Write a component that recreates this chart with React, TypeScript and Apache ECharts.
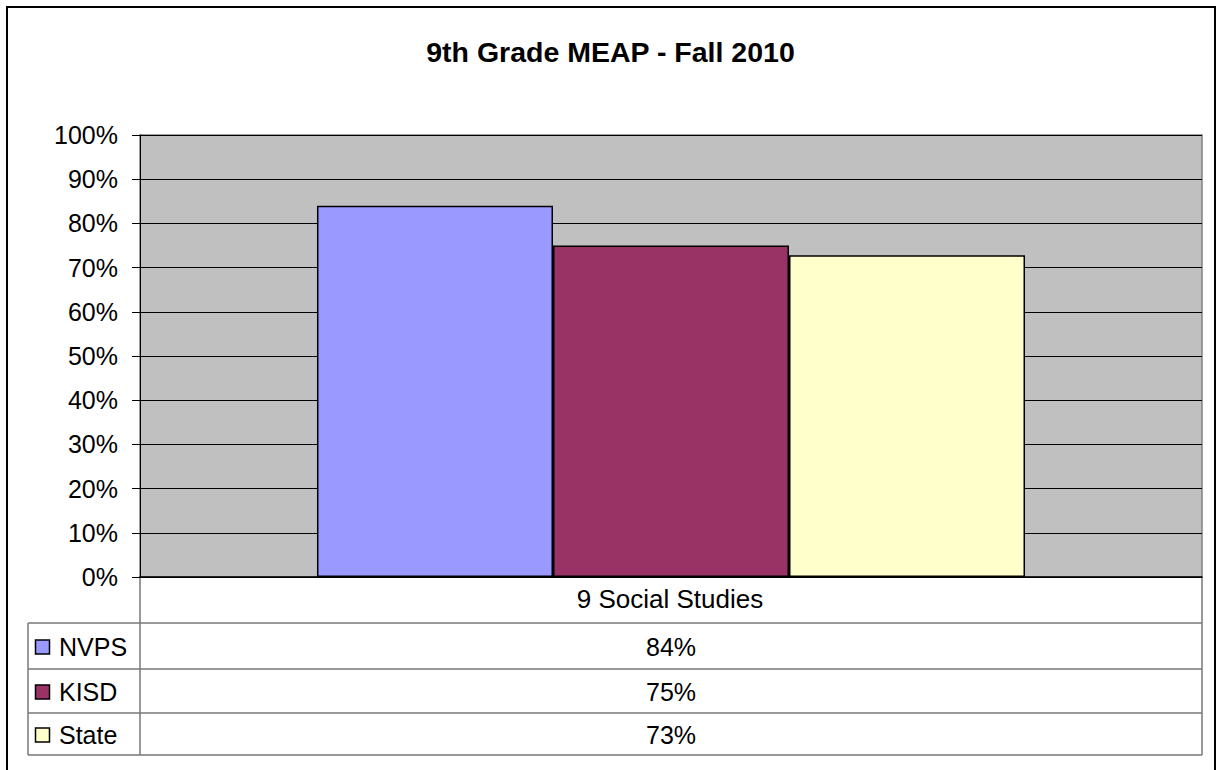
import React, { useEffect, useRef } from "react";
import * as echarts from "echarts";

const titleText = "9th Grade MEAP - Fall 2010";
const categories = ["9 Social Studies"];
const seriesNames = ["NVPS", "KISD", "State"];
const nvpsValues = [84];
const kisdValues = [75];
const stateValues = [72.8];
const yTicks = [0, 10, 20, 30, 40, 50, 60, 70, 80, 90, 100];

const seriesValues = [nvpsValues, kisdValues, stateValues];
const seriesColors = ["#9999FF", "#993366", "#FFFFCC"];

const FONT = "'Liberation Sans', Arial, sans-serif";

export default function App() {
  const ref = useRef<HTMLDivElement>(null);

  useEffect(() => {
    document.body.style.margin = "0";
    if (!ref.current) return;
    const chart = echarts.init(ref.current, null, { renderer: "svg" });

    const gridLeft = 140;
    const gridTop = 135;
    const gridWidth = 1062;
    const gridHeight = 442;
    const gridRight = gridLeft + gridWidth;
    const gridBottom = gridTop + gridHeight;
    const legendLeft = 28;
    const rowBounds = [gridBottom, 623, 669, 713, 755];
    const lineColor = "#777777";
    const tableMidX = gridLeft + gridWidth / 2;

    const graphics: any[] = [];
    // outer chart frame
    graphics.push({
      type: "rect",
      shape: { x: 7, y: 7, width: 1208, height: 800 },
      style: { fill: "none", stroke: "#000", lineWidth: 2 },
      silent: true,
    });
    // horizontal table lines
    for (let i = 1; i < rowBounds.length; i++) {
      graphics.push({
        type: "line",
        shape: { x1: legendLeft, y1: rowBounds[i], x2: gridRight, y2: rowBounds[i] },
        style: { stroke: lineColor, lineWidth: 1.5 },
        silent: true,
      });
    }
    // vertical table lines
    graphics.push({
      type: "line",
      shape: { x1: legendLeft, y1: rowBounds[1], x2: legendLeft, y2: rowBounds[rowBounds.length - 1] },
      style: { stroke: lineColor, lineWidth: 1.5 },
    });
    graphics.push({
      type: "line",
      shape: { x1: gridLeft, y1: gridBottom, x2: gridLeft, y2: rowBounds[rowBounds.length - 1] },
      style: { stroke: lineColor, lineWidth: 1.5 },
    });
    graphics.push({
      type: "line",
      shape: { x1: gridRight, y1: gridBottom, x2: gridRight, y2: rowBounds[rowBounds.length - 1] },
      style: { stroke: lineColor, lineWidth: 1.5 },
    });
    // category header
    graphics.push({
      type: "text",
      x: tableMidX - 1,
      y: (rowBounds[0] + rowBounds[1]) / 2 - 1,
      style: {
        text: categories[0],
        font: `26px ${FONT}`,
        fill: "#000",
        textAlign: "center",
        textVerticalAlign: "middle",
      },
    });
    // rows
    seriesNames.forEach((name, i) => {
      const cy = (rowBounds[i + 1] + rowBounds[i + 2]) / 2 + 1;
      graphics.push({
        type: "rect",
        shape: { x: 35.5, y: cy - 7, width: 14, height: 14 },
        style: { fill: seriesColors[i], stroke: "#000", lineWidth: 1.5 },
      });
      graphics.push({
        type: "text",
        x: 59,
        y: cy,
        style: {
          text: name,
          font: `25px ${FONT}`,
          fill: "#000",
          textAlign: "left",
          textVerticalAlign: "middle",
        },
      });
      graphics.push({
        type: "text",
        x: tableMidX,
        y: cy,
        style: {
          text: Math.round(seriesValues[i][0]) + "%",
          font: `25px ${FONT}`,
          fill: "#000",
          textAlign: "center",
          textVerticalAlign: "middle",
        },
      });
    });

    chart.setOption({
      animation: false,
      backgroundColor: "#ffffff",
      title: {
        text: titleText,
        left: "center",
        top: 32,
        textStyle: { fontFamily: FONT, fontSize: 28.5, fontWeight: "bold", color: "#000" },
      },
      grid: {
        left: gridLeft,
        top: gridTop,
        width: gridWidth,
        height: gridHeight,
        show: true,
        backgroundColor: "#C0C0C0",
        borderColor: "#808080",
        borderWidth: 1.5,
        containLabel: false,
      },
      xAxis: {
        type: "category",
        data: categories,
        axisLine: { show: true, lineStyle: { color: "#000", width: 1.5 } },
        axisTick: { show: false },
        axisLabel: { show: false },
        splitLine: { show: false },
      },
      yAxis: {
        type: "value",
        min: yTicks[0],
        max: yTicks[yTicks.length - 1],
        interval: 10,
        axisLine: { show: true, lineStyle: { color: "#000", width: 1 } },
        axisTick: { show: true, length: 8, lineStyle: { color: "#000", width: 1 } },
        axisLabel: {
          margin: 22,
          formatter: (v: number) => `${v}%`,
          fontFamily: FONT,
          fontSize: 25,
          color: "#000",
        },
        splitLine: { show: true, lineStyle: { color: "#000", width: 1 } },
      },
      series: seriesNames.map((name, i) => ({
        name,
        type: "bar",
        data: seriesValues[i],
        barGap: "0%",
        barCategoryGap: "33.33%",
        itemStyle: { color: seriesColors[i], borderColor: "#000", borderWidth: 1.5 },
      })),
      graphic: graphics,
    });

    return () => chart.dispose();
  }, []);

  return <div ref={ref} style={{ width: 1221, height: 770 }} />;
}
